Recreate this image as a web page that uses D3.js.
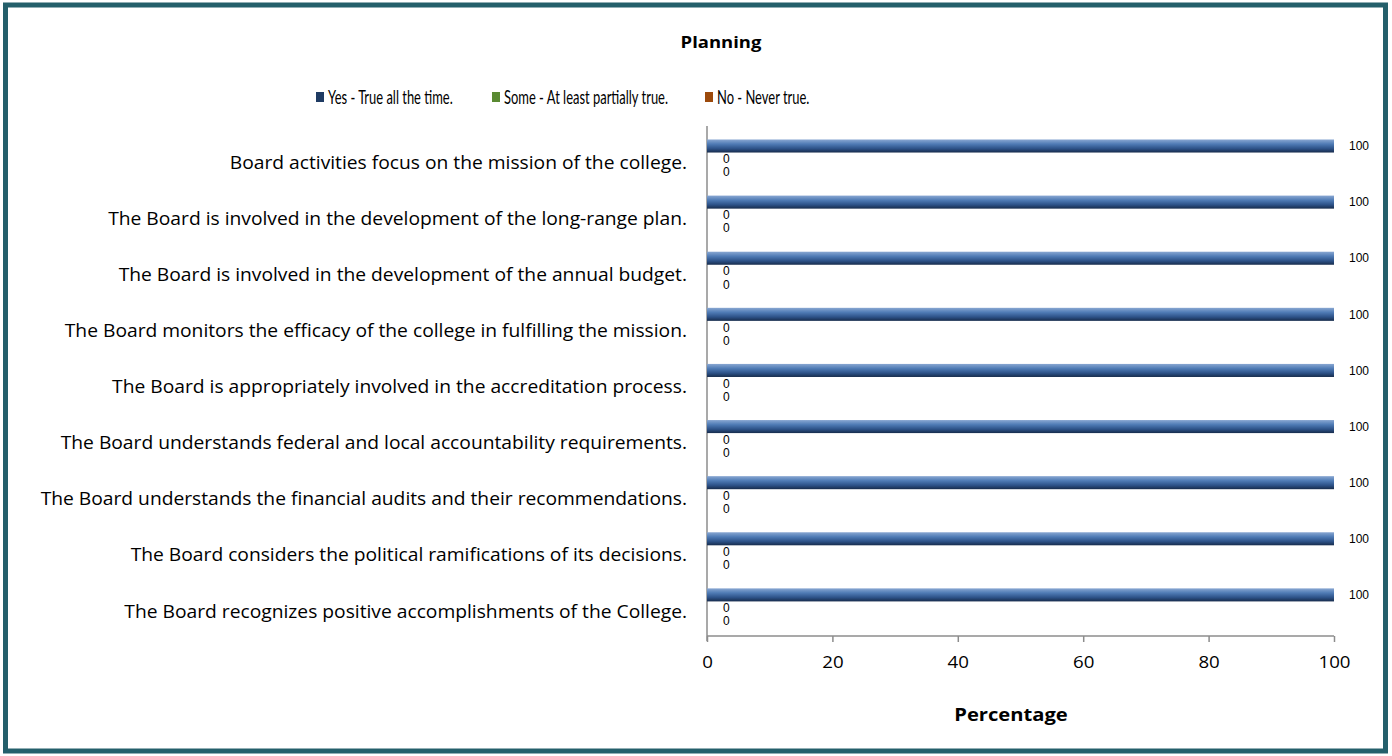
<!DOCTYPE html>
<html>
<head>
<meta charset="utf-8">
<script src="https://cdn.jsdelivr.net/npm/d3@7"></script>
<style>
	html, body { margin: 0; padding: 0; background: #fff; }
	svg { display: block; font-family: "Open Sans", Lato, sans-serif; }
</style>
</head>
<body>
<svg id="chart" width="1392" height="756"></svg>
<script>
const categories = [
	"Board activities focus on the mission of the college.",
	"The Board is involved in the development of the long-range plan.",
	"The Board is involved in the development of the annual budget.",
	"The Board monitors the efficacy of the college in fulfilling the mission.",
	"The Board is appropriately involved in the accreditation process.",
	"The Board understands federal and local accountability requirements.",
	"The Board understands the financial audits and their recommendations.",
	"The Board considers the political ramifications of its decisions.",
	"The Board recognizes positive accomplishments of the College."
];
const seriesNames = ["Yes - True all the time.", "Some - At least partially true.", "No - Never true."];
const yesValues = [100, 100, 100, 100, 100, 100, 100, 100, 100];
const someValues = [0, 0, 0, 0, 0, 0, 0, 0, 0];
const noValues = [0, 0, 0, 0, 0, 0, 0, 0, 0];
const tickValues = [0, 20, 40, 60, 80, 100];

const seriesColors = ["#1f3b63", "#5a8a32", "#9c4a0c"];
const series = [yesValues, someValues, noValues];

const svg = d3.select("#chart");
const margin = {top: 131, right: 57, bottom: 120, left: 707};
const width = 1392 - margin.left - margin.right;
const height = 756 - margin.top - margin.bottom;

// outer frame
svg.append("rect")
.attr("x", 5.5)
.attr("y", 5)
.attr("width", 1380)
.attr("height", 746)
.attr("fill", "none")
.attr("stroke", "#245f6b")
.attr("stroke-width", 5);

const defs = svg.append("defs");
const grad = defs.append("linearGradient")
.attr("id", "barGrad")
.attr("x1", 0).attr("y1", 0).attr("x2", 0).attr("y2", 1);
grad.append("stop").attr("offset", "0%").attr("stop-color", "#89a7d2");
grad.append("stop").attr("offset", "35%").attr("stop-color", "#4f7bb5");
grad.append("stop").attr("offset", "70%").attr("stop-color", "#2d5288");
grad.append("stop").attr("offset", "100%").attr("stop-color", "#172c4c");

svg.append("text")
.attr("transform", "translate(721, 48) scale(1.12, 1)")
.attr("text-anchor", "middle")
.attr("font-size", 16.5)
.attr("font-weight", "bold")
.text("Planning");

// legend
const legendX = [316, 492, 705];
const legend = svg.selectAll(".legend")
.data(seriesNames)
.enter()
.append("g")
.attr("class", "legend")
.attr("transform", (d, i) => `translate(${legendX[i]}, 92)`);

legend.append("rect")
.attr("width", 8)
.attr("height", 10)
.attr("fill", (d, i) => seriesColors[i]);

legend.append("text")
.attr("transform", "translate(12, 11.5) scale(0.7, 1)")
.attr("font-family", "Lato, sans-serif")
.attr("font-size", 18.5)
.text((d) => d);

const g = svg.append("g")
.attr("transform", `translate(${margin.left}, ${margin.top})`);

const x = d3.scaleLinear().domain([0, 100]).range([0, width - 1]);
const y = d3.scaleBand().domain(categories).range([0, height]);
const inner = d3.scaleBand().domain([0, 1, 2]).range([0, y.bandwidth()]).paddingOuter(0.65).paddingInner(0);

// axes lines
g.append("line")
.attr("x1", 0).attr("x2", 0)
.attr("y1", -5).attr("y2", height + 5)
.attr("stroke", "#8c8c8c")
.attr("stroke-width", 1.5);

g.append("line")
.attr("x1", 0).attr("x2", x(100))
.attr("y1", height).attr("y2", height)
.attr("stroke", "#8c8c8c")
.attr("stroke-width", 1.5);

const xAxis = g.append("g")
.attr("transform", `translate(0, ${height})`)
.call(d3.axisBottom(x).tickValues(tickValues).tickSize(6).tickPadding(14));
xAxis.select(".domain").remove();
xAxis.selectAll("line").attr("stroke", "#8c8c8c").attr("stroke-width", 1.5);
xAxis.selectAll("text")
.attr("transform", "scale(1.1, 1)")
.attr("font-size", 17)
.attr("font-family", "\"Open Sans\", sans-serif")
.attr("fill", "#000");

svg.append("text")
.attr("transform", "translate(1011, 721) scale(1.12, 1)")
.attr("text-anchor", "middle")
.attr("font-size", 18)
.attr("font-weight", "bold")
.text("Percentage");

// category labels
g.selectAll(".cat")
.data(categories)
.enter()
.append("text")
.attr("class", "cat")
.attr("transform", (d) => `translate(-20, ${y(d) + y.bandwidth() / 2 + 4}) scale(1.1, 1)`)
.attr("dy", "0.32em")
.attr("text-anchor", "end")
.attr("font-size", 17.5)
.text((d) => d);

// bars
series.forEach((values, s) => {
	const rows = g.selectAll(`.bar-${s}`)
	.data(values)
	.enter()
	.append("g")
	.attr("class", `bar-${s}`)
	.attr("transform", (d, i) => `translate(0, ${y(categories[i]) + inner(s)})`);

	rows.append("rect")
	.attr("x", 0)
	.attr("width", (d) => x(d))
	.attr("height", inner.bandwidth())
	.attr("fill", s === 0 ? "url(#barGrad)" : seriesColors[s]);

	rows.append("text")
	.attr("x", (d) => x(d) + (d === 0 ? 16 : 15))
	.attr("y", inner.bandwidth() / 2)
	.attr("dy", "0.35em")
	.attr("font-size", 12)
	.attr("fill", "#000")
	.attr("font-family", "Liberation Sans, Arial, sans-serif")
	.text((d) => d);
});
</script>
</body>
</html>
